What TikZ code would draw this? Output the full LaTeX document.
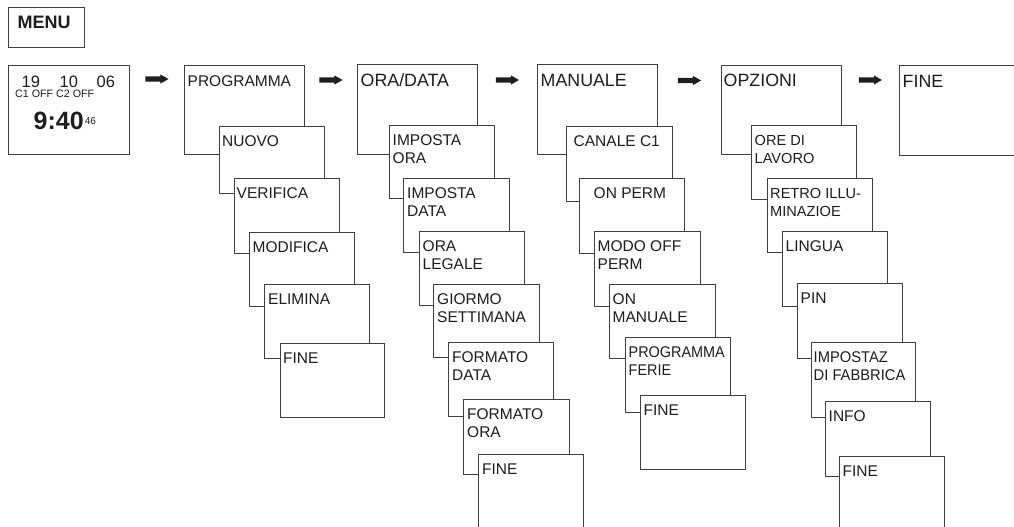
\documentclass[tikz,border=0pt]{standalone}
\usepackage{fontspec}
\usepackage{graphicx}
\setmainfont{Liberation Sans}
\usetikzlibrary{calc}

\definecolor{edge}{HTML}{404040}
\definecolor{ink}{HTML}{1E1E1E}

\tikzset{
  card/.style={draw=edge, line width=0.95pt, fill=white, inner sep=0pt, anchor=north west},
  lbl/.style={anchor=base west, inner sep=0pt, text=ink, font=\fontsize{15.5}{18.2}\selectfont},
  lblsm/.style={lbl, font=\fontsize{14.6}{18.3}\selectfont},
  head/.style={lbl, font=\fontsize{17.8}{21}\selectfont},
  fatarrow/.style={fill=ink}
}

% \menucard[label style]{name}{x1}{y1}{x2}{y2}{text inset}{baseline drop}{text}
\newcommand\menucard[9][lbl]{%
  \node[card, minimum width={(#5)-(#3)}, minimum height={(#6)-(#4)}] (#2) at (#3,#4) {};
  \node[#1] (#2-t) at ($(#2.north west)+(#7,#8)$) {#9};}
\newcommand\twoline[2]{\vtop{\hbox{#1}\hbox{#2}}}
% block arrow centred on a named coordinate
\newcommand\blockarrow[1]{%
  \fill[fatarrow, shift={(#1)}] (-11.5,-2.7) -- (3.5,-2.7) -- (3.5,-4.6) -- (11.5,0)
    -- (3.5,4.6) -- (3.5,2.7) -- (-11.5,2.7) -- cycle;}

\begin{document}
\begin{tikzpicture}[x=1pt, y=-1pt]
\clip (0,0) rectangle (1014,527);
\fill[white] (0,0) rectangle (1014,527);

% menu title
\node[card, minimum width=76, minimum height=40] (menu) at (8,7) {};
\node[anchor=base west, inner sep=0pt, text=ink, font=\bfseries\fontsize{18}{20}\selectfont]
  (menu-t) at ($(menu.north west)+(9.5,21.5)$) {MENU};

% clock display
\node[card, minimum width=121, minimum height=89] (disp) at (8,65) {};
\begin{scope}[every node/.style={anchor=base west, inner sep=0pt, text=ink}]
  \node[font=\fontsize{16.5}{18}\selectfont] (d-day) at ($(disp.north west)+(13.5,22)$) {19};
  \node[font=\fontsize{16.5}{18}\selectfont] (d-mon) at ($(disp.north west)+(51.5,22)$) {10};
  \node[font=\fontsize{16.5}{18}\selectfont] (d-yr) at ($(disp.north west)+(88.5,22)$) {06};
  \node[font=\fontsize{10.7}{12}\selectfont] (d-ch) at ($(disp.north west)+(7,32.7)$) {C1 OFF C2 OFF};
  \node[font=\bfseries\fontsize{25}{28}\selectfont] (d-time) at ($(disp.north west)+(25.5,64)$) {9:40};
  \node[font=\fontsize{10}{12}\selectfont] (d-sec) at ($(d-time.base east)+(0.8,-5)$) {46};
\end{scope}

% PROGRAMMA column
\menucard[lbl]{prog}{184}{65}{304}{154}{3.5}{21}{PROGRAMMA}
\menucard{p1}{219}{126}{324}{193}{3}{20.5}{NUOVO}
\menucard{p2}{234}{178}{339}{253}{2.5}{20.5}{VERIFICA}
\menucard{p3}{249}{232}{354}{306}{3.5}{20.5}{MODIFICA}
\menucard{p4}{264}{284}{369}{358}{4}{20.5}{ELIMINA}
\menucard{p5}{280}{343}{384}{417}{3}{20.5}{FINE}

% ORA/DATA column
\menucard[head]{orad}{357}{64}{477}{154}{3.5}{22}{ORA/DATA}
\menucard{o1}{389}{125}{494}{198}{3.5}{20.5}{\twoline{IMPOSTA}{ORA}}
\menucard{o2}{403}{178}{509}{252}{4}{20.5}{\twoline{IMPOSTA}{DATA}}
\menucard{o3}{419}{231}{524}{305}{3.5}{20.5}{\twoline{ORA}{LEGALE}}
\menucard{o4}{433}{284}{539}{357}{4}{20.5}{\twoline{GIORMO}{SETTIMANA}}
\menucard{o5}{448}{342}{553}{416}{4}{20.5}{\twoline{FORMATO}{DATA}}
\menucard{o6}{463}{399}{569}{474}{4}{20.5}{\twoline{FORMATO}{ORA}}
\menucard{o7}{478}{454}{583}{545}{4}{20.5}{FINE}

% MANUALE column
\menucard[head]{man}{537}{64}{657}{154}{3.5}{22}{MANUALE}
\menucard{m1}{566}{126}{672}{201}{7.5}{20.5}{CANALE C1}
\menucard{m2}{579}{178}{684}{253}{14.5}{20.5}{ON PERM}
\menucard{m3}{594}{231}{700}{306}{3.5}{20.5}{\twoline{MODO OFF}{PERM}}
\menucard{m4}{609}{284}{715}{358}{3.5}{20.5}{\twoline{ON}{MANUALE}}
\menucard{m5}{625}{337}{730}{412}{3.5}{20.5}{\twoline{\scalebox{0.93}[1]{PROGRAMMA}}{\scalebox{0.93}[1]{FERIE}}}
\menucard{m6}{640}{395}{745}{469}{3.5}{20.5}{FINE}

% OPZIONI column
\menucard[head]{opz}{721}{65}{841}{154}{2.5}{21.5}{OPZIONI}
\menucard[lblsm]{z1}{751}{125}{856}{199}{3.5}{20.5}{\twoline{ORE DI}{LAVORO}}
\menucard[lblsm]{z2}{767}{178}{872}{252}{3}{20.5}{\twoline{RETRO ILLU-}{MINAZIOE}}
\menucard{z3}{782}{231}{887}{306}{3.5}{20.5}{LINGUA}
\menucard{z4}{797}{283}{902}{358}{3.5}{20.5}{PIN}
\menucard{z5}{811}{342}{915}{417}{2.5}{20.5}{\twoline{\scalebox{0.95}[1]{IMPOSTAZ}}{\scalebox{0.95}[1]{DI FABBRICA}}}
\menucard{z6}{825}{401}{930}{476}{3.5}{20.5}{INFO}
\menucard{z7}{839}{456}{944}{545}{3.5}{20.5}{FINE}

% closing entry
\menucard[head]{fine}{899}{65}{1030}{155}{3.5}{22}{FINE}

% navigation arrows between top-level screens
\coordinate (a1) at ($(disp.north east)!0.5!(prog.north west)+(0,14)$);
\coordinate (a2) at ($(prog.north east)!0.5!(orad.north west)+(0,15.5)$);
\coordinate (a3) at ($(orad.north east)!0.5!(man.north west)+(0,16)$);
\coordinate (a4) at ($(man.north east)!0.5!(opz.north west)+(0,16)$);
\coordinate (a5) at ($(opz.north east)!0.5!(fine.north west)+(0,15)$);
\blockarrow{a1}
\blockarrow{a2}
\blockarrow{a3}
\blockarrow{a4}
\blockarrow{a5}
\end{tikzpicture}
\end{document}
